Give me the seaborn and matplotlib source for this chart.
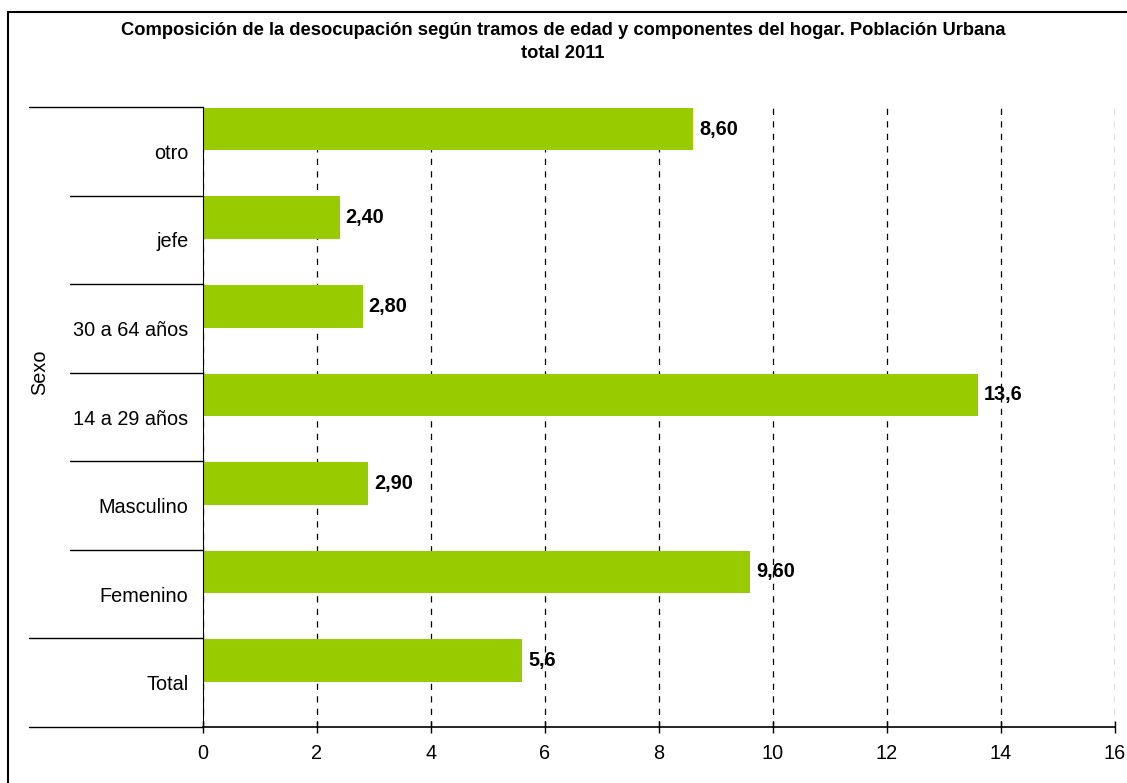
import matplotlib
matplotlib.use("Agg")
import matplotlib.pyplot as plt
from matplotlib.patches import Rectangle
import pandas as pd
import seaborn as sns

# datos (de arriba hacia abajo)
categorias = ["otro", "jefe", "30 a 64 años", "14 a 29 años", "Masculino", "Femenino", "Total"]
valores = [8.60, 2.40, 2.80, 13.6, 2.90, 9.60, 5.6]
etiquetas = ["8,60", "2,40", "2,80", "13,6", "2,90", "9,60", "5,6"]
x_ticks = [0, 2, 4, 6, 8, 10, 12, 14, 16]

titulo = ("Composición de la desocupación según tramos de edad y componentes del hogar. Población Urbana\n"
          "total 2011")

df = pd.DataFrame({"categoria": categorias, "valor": valores})

sns.set_style("white")
plt.rcParams["font.family"] = ["Liberation Sans", "DejaVu Sans"]
plt.rcParams["text.color"] = "black"
plt.rcParams["xtick.color"] = "black"
plt.rcParams["ytick.color"] = "black"

W, H = 1127, 783
fig = plt.figure(figsize=(W / 100, H / 100), dpi=100)

# marco del area del grafico
fig.patches.append(Rectangle((8 / W, -0.05), 1.1, 1 - 12 / H + 0.05, transform=fig.transFigure,
                             fill=False, edgecolor="black", linewidth=1.5))

ax = fig.add_axes([203 / W, 1 - 727 / H, (1115 - 203) / W, (727 - 107) / H])

sns.barplot(data=df, x="valor", y="categoria", orient="h", color="#99CC00",
            width=0.48, saturation=1, ax=ax)

# las barras ocupan la mitad superior de cada categoria
for p in ax.patches:
    p.set_y(p.get_y() - 0.25)
    p.set_edgecolor("none")

fs = 14.3
for i, (v, t) in enumerate(zip(valores, etiquetas)):
    ax.text(v + 0.1, i - 0.25, t, ha="left", va="center", fontsize=fs, fontweight="bold")

ax.set_xlim(0, 16)
ax.set_ylim(6.5, -0.5)
ax.set_xticks(x_ticks)
ax.set_xticklabels([str(t) for t in x_ticks])
ax.xaxis.grid(True, color="black", linestyle=(0, (5, 5)), linewidth=0.9)
ax.set_axisbelow(True)
ax.tick_params(axis="x", direction="inout", length=9, width=1, pad=8, labelsize=fs,
               bottom=True, color="black")
ax.tick_params(axis="y", length=0, pad=10.5, labelsize=fs)

for s in ["top", "right"]:
    ax.spines[s].set_visible(False)
ax.spines["left"].set_color("black")
ax.spines["bottom"].set_color("black")
ax.spines["bottom"].set_linewidth(1.2)

ax.set_xlabel("")
ax.set_ylabel("")

# separadores de categorias a la izquierda
tr = ax.get_yaxis_transform()
for b in [0.5, 1.5, 2.5, 3.5, 4.5]:
    ax.plot([-0.146, 0], [b, b], color="black", linewidth=1, transform=tr, clip_on=False)
for b in [-0.5, 5.5, 6.5]:
    ax.plot([-0.191, 0], [b, b], color="black", linewidth=1, transform=tr, clip_on=False)

fig.text(40 / W, 1 - 372 / H, "Sexo", rotation=90, ha="center", va="center", fontsize=fs)

fig.text(563 / W, 1 - 42 / H, titulo, ha="center", va="center", fontsize=13.2,
         fontweight="bold", linespacing=1.5)

fig.savefig("out.png", dpi=100)
